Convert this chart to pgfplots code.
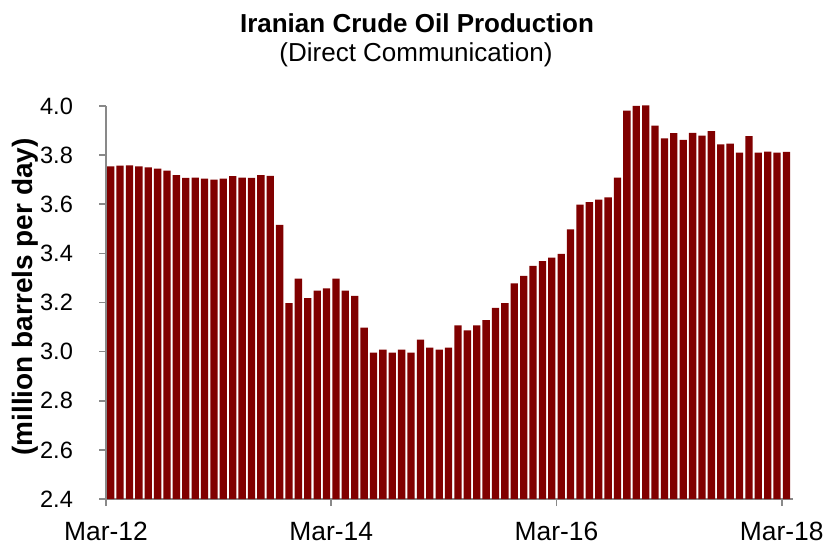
\documentclass[border=0pt]{standalone}
\usepackage{pgfplots}
\pgfplotsset{compat=1.18}
\usepackage{fontspec}
\setmainfont{Liberation Sans}
\definecolor{barred}{RGB}{128,0,0}
\definecolor{axgray}{RGB}{137,137,137}
\begin{document}
\begin{tikzpicture}
\begin{axis}[
    scale only axis,
    width=343.5pt, height=196.5pt,
    xmin=-0.5, xmax=72.7,
    ymin=2.4, ymax=4.0,
    axis lines*=left,
    axis line style={axgray, line width=0.8pt},
    tick style={axgray, line width=0.8pt},
    tick align=outside,
    major tick length=3.5pt,
    xtick={-0.5,23.5,47.5,71.5},
    xticklabels={Mar-12,Mar-14,Mar-16,Mar-18},
    ytick={2.4,2.6,...,4.01},
    /pgf/number format/assume math mode=true,
    tick label style={font=\fontsize{13.2}{15}\selectfont, black},
    yticklabel style={font=\fontsize{11.8}{14}\selectfont, xshift=-9.5pt, /pgf/number format/.cd, fixed, fixed zerofill, precision=1},
    xticklabel style={yshift=-4.5pt},
    clip=false,
]
\addplot[ybar, bar width=0.78, fill=barred, draw=none] coordinates {
(0,3.754) (1,3.757) (2,3.758) (3,3.754) (4,3.750) (5,3.745) (6,3.737) (7,3.719)
(8,3.707) (9,3.708) (10,3.704) (11,3.700) (12,3.704) (13,3.714) (14,3.708) (15,3.707)
(16,3.719) (17,3.716) (18,3.516) (19,3.197) (20,3.297) (21,3.218) (22,3.248) (23,3.258)
(24,3.297) (25,3.248) (26,3.227) (27,3.098) (28,2.996) (29,3.008) (30,2.996) (31,3.008)
(32,2.996) (33,3.049) (34,3.016) (35,3.008) (36,3.016) (37,3.107) (38,3.087) (39,3.107)
(40,3.128) (41,3.178) (42,3.197) (43,3.278) (44,3.308) (45,3.349) (46,3.368) (47,3.383)
(48,3.398) (49,3.498) (50,3.598) (51,3.609) (52,3.619) (53,3.628) (54,3.708) (55,3.981)
(56,4.000) (57,4.003) (58,3.920) (59,3.868) (60,3.890) (61,3.862) (62,3.891) (63,3.879)
(64,3.898) (65,3.844) (66,3.847) (67,3.810) (68,3.877) (69,3.810) (70,3.814) (71,3.810)
(72,3.813)
};
\end{axis}
\path[use as bounding box] (-53pt,-22.5pt) rectangle (366pt,249.5pt);
\node[font=\bfseries\fontsize{13}{15}\selectfont, anchor=base] at (155.5pt,233pt) {Iranian Crude Oil Production};
\node[font=\fontsize{13}{15}\selectfont, anchor=base] at (155pt,218.5pt) {(Direct Communication)};
\node[font=\bfseries\fontsize{14}{16}\selectfont, rotate=90] at (-40.5pt,101pt) {(million barrels per day)};
\end{tikzpicture}
\end{document}
